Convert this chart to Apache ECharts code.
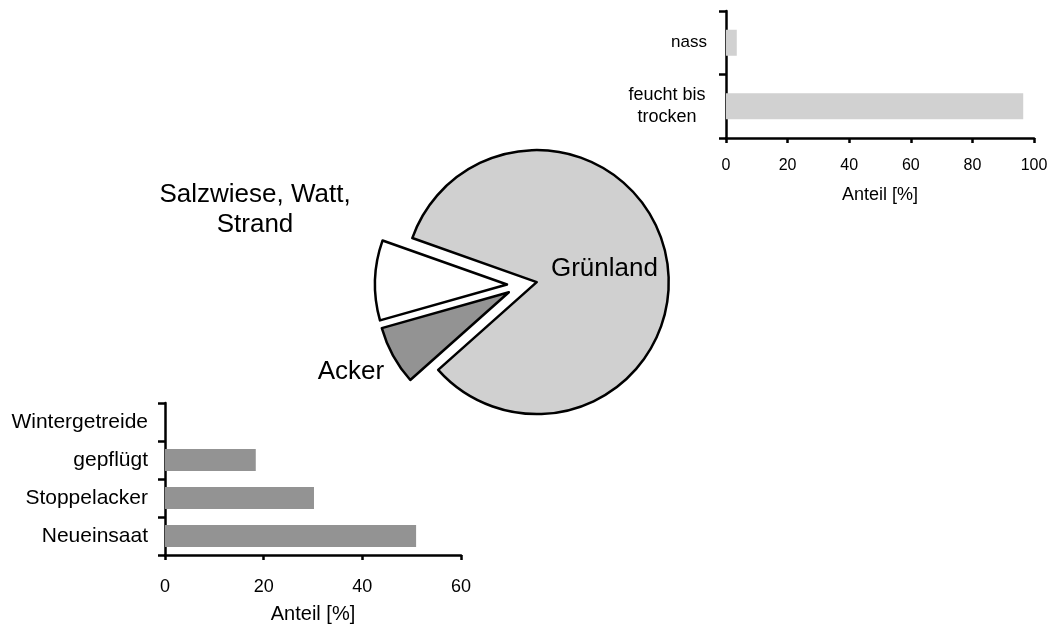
<!DOCTYPE html>
<html>
<head>
<meta charset="utf-8">
<script src="https://cdn.jsdelivr.net/npm/echarts@6/dist/echarts.min.js"></script>
<style>html,body{margin:0;padding:0;background:#fff;}#c{width:1055px;height:626px;}</style>
</head>
<body>
<div id="c"></div>
<script>
// Pie: land use (order clockwise from the top-left edge of Grünland)
const pieCategories = ['Grünland', 'Acker', 'Salzwiese, Watt,\nStrand'];
const pieValues = [83, 7.2, 9.8];
const pieColors = ['#d0d0d0', '#939393', '#ffffff'];

// Top-right bars: Grünland moisture
const wetCategories = ['nass', 'feucht bis\ntrocken'];
const wetValues = [3.5, 96.5];

// Bottom-left bars: Acker types
const ackerCategories = ['Wintergetreide', 'gepflügt', 'Stoppelacker', 'Neueinsaat'];
const ackerValues = [0, 18.4, 30.2, 50.9];

const axisName = 'Anteil [%]';
const FONT = '"Liberation Sans", Arial, Helvetica, sans-serif';

const chart = echarts.init(document.getElementById('c'), null, {renderer: 'canvas'});

// positions of the outside pie labels (Acker, Salzwiese)
const outsideLabelPos = {1: [351, 372], 2: [255, 210]};

function catLabelFormatter(v) {
  return v.indexOf('\n') >= 0 ? '{m|' + v + '}' : v;
}

const option = {
  animation: false,
  backgroundColor: '#ffffff',
  textStyle: {fontFamily: FONT, color: '#000'},
  grid: [
    {left: 726, top: 11, width: 308, height: 127, outerBoundsMode: 'none'},
    {left: 165, top: 403, width: 296, height: 152, outerBoundsMode: 'none'}
  ],
  xAxis: [
    {
      gridIndex: 0, type: 'value', min: 0, max: 100, interval: 20,
      name: axisName, nameLocation: 'middle', nameGap: 48,
      nameTextStyle: {fontSize: 18, color: '#000', fontFamily: FONT},
      axisLine: {show: true, lineStyle: {color: '#000', width: 2.5}},
      axisTick: {show: true, length: 5, lineStyle: {color: '#000', width: 2.5}},
      axisLabel: {fontSize: 16, color: '#000', margin: 20, fontFamily: FONT},
      splitLine: {show: false}
    },
    {
      gridIndex: 1, type: 'value', min: 0, max: 60, interval: 20,
      name: axisName, nameLocation: 'middle', nameGap: 49,
      nameTextStyle: {fontSize: 20, color: '#000', fontFamily: FONT},
      axisLine: {show: true, lineStyle: {color: '#000', width: 2.5}},
      axisTick: {show: true, length: 5, lineStyle: {color: '#000', width: 2.5}},
      axisLabel: {fontSize: 18, color: '#000', margin: 23, fontFamily: FONT},
      splitLine: {show: false}
    }
  ],
  yAxis: [
    {
      gridIndex: 0, type: 'category', data: wetCategories, inverse: true,
      axisLine: {show: true, lineStyle: {color: '#000', width: 2.5}},
      axisTick: {show: true, length: 7, lineStyle: {color: '#000', width: 2.5}},
      axisLabel: {
        fontSize: 17, color: '#000', margin: 19, fontFamily: FONT,
        formatter: catLabelFormatter,
        rich: {m: {fontSize: 18, width: 80, align: 'center', lineHeight: 22, fontFamily: FONT, color: '#000'}}
      }
    },
    {
      gridIndex: 1, type: 'category', data: ackerCategories, inverse: true,
      axisLine: {show: true, lineStyle: {color: '#000', width: 2.5}},
      axisTick: {show: true, length: 7, lineStyle: {color: '#000', width: 2.5}},
      axisLabel: {fontSize: 21, color: '#000', margin: 17, fontFamily: FONT}
    }
  ],
  graphic: Object.keys(outsideLabelPos).map(k => ({
    type: 'text',
    x: outsideLabelPos[k][0], y: outsideLabelPos[k][1],
    silent: true,
    style: {
      text: pieCategories[k], fontSize: 26, lineHeight: 30, fontFamily: FONT,
      fill: '#000', textAlign: 'center', textVerticalAlign: 'middle'
    }
  })),
  series: [
    {
      type: 'pie',
      center: [522, 285],
      radius: 132,
      startAngle: 160.5,
      clockwise: true,
      selectedMode: 'multiple',
      selectedOffset: 15,
      silent: true,
      emphasis: {disabled: true},
      itemStyle: {borderColor: '#000', borderWidth: 2.5},
      label: {
        show: true, position: 'inside', fontSize: 26,
        color: '#000', fontFamily: FONT, formatter: '{b}'
      },
      labelLine: {show: false},
      data: pieCategories.map((n, i) => ({
        name: n, value: pieValues[i], selected: true,
        itemStyle: {color: pieColors[i]},
        label: {show: i === 0}
      }))
    },
    {
      type: 'bar', xAxisIndex: 0, yAxisIndex: 0,
      data: wetValues, barWidth: 26, silent: true,
      itemStyle: {color: '#d1d1d1'}
    },
    {
      type: 'bar', xAxisIndex: 1, yAxisIndex: 1,
      data: ackerValues, barWidth: 22, silent: true,
      itemStyle: {color: '#939393'}
    }
  ]
};
chart.setOption(option);
</script>
</body>
</html>
